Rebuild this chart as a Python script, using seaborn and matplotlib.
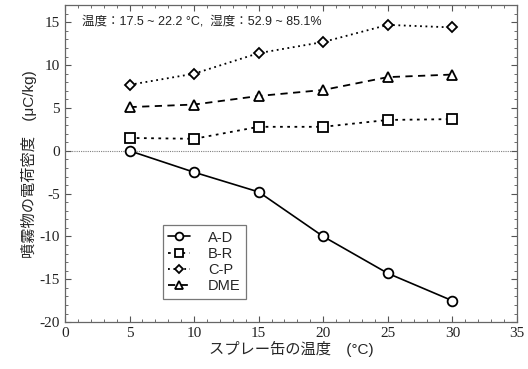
import pandas as pd
import matplotlib
matplotlib.use('Agg')
import matplotlib.pyplot as plt
import seaborn as sns
from matplotlib.ticker import MultipleLocator

# スプレー缶の温度 (°C)
temps = [5, 10, 15, 20, 25, 30]
ad = [0.0, -2.5, -4.8, -10.0, -14.3, -17.5]
br = [1.5, 1.4, 2.8, 2.8, 3.6, 3.7]
cp = [7.7, 9.0, 11.4, 12.7, 14.7, 14.4]
dme = [5.1, 5.4, 6.4, 7.1, 8.6, 8.9]
names = ['A-D', 'B-R', 'C-P', 'DME']

df = pd.DataFrame({
    'temp': temps * 4,
    'q': ad + br + cp + dme,
    'name': [n for n in names for _ in temps],
})

sns.set_style('ticks')
plt.rcParams['font.family'] = ['Noto Sans CJK JP', 'DejaVu Sans']
plt.rcParams['axes.unicode_minus'] = False
mixed = ['Liberation Sans', 'Noto Sans CJK JP']

fig = plt.figure(figsize=(5.28, 3.69), dpi=100)
ax = fig.add_axes([0.123, 0.127, 0.856, 0.859])

styles = {
    'A-D': dict(marker='o', ls='-', ms=7),
    'B-R': dict(marker='s', ls=(0, (1.5, 2.5)), ms=7),
    'C-P': dict(marker='D', ls=(0, (1, 2)), ms=5),
    'DME': dict(marker='^', ls=(0, (4, 3)), ms=7),
}
for n in names:
    st = styles[n]
    sns.lineplot(data=df[df['name'] == n], x='temp', y='q', ax=ax, color='black',
                 lw=1.2 if n == 'A-D' else 1.3, linestyle=st['ls'], marker=st['marker'],
                 markersize=st['ms'], markerfacecolor='white', markeredgecolor='black',
                 markeredgewidth=1.3, label=n)

ax.axhline(0, color='gray', lw=0.8, ls=(0, (1, 1)), zorder=0)

ax.set_xlim(0, 35)
ax.set_ylim(-20, 17)
ax.xaxis.set_major_locator(MultipleLocator(5))
ax.xaxis.set_minor_locator(MultipleLocator(1))
ax.yaxis.set_major_locator(MultipleLocator(5))
ax.yaxis.set_minor_locator(MultipleLocator(1))
ax.tick_params(which='both', direction='in', top=True, right=True, color='#555555')
ax.tick_params(which='major', length=4, width=0.8, labelsize=11,
               labelfontfamily='Liberation Serif', labelcolor='#222222')
ax.tick_params(which='minor', length=2, width=0.6)
for s in ax.spines.values():
    s.set_color('#666666')
    s.set_linewidth(0.9)

ax.set_xlabel('スプレー缶の温度　(°C)', fontsize=11, labelpad=1, family=mixed)
ax.set_ylabel('噴霧物の電荷密度　(μC/kg)', fontsize=11, labelpad=2, family=mixed)

ax.text(1.3, 15.1, '温度：17.5 ~ 22.2 °C,  湿度：52.9 ~ 85.1%', fontsize=9,
        va='center', ha='left', color='#222222', family=mixed)

leg = ax.legend(loc='lower left', bbox_to_anchor=(0.2, 0.05), fontsize=10.5,
                frameon=True, fancybox=False, edgecolor='#555555', handlelength=1.5,
                handletextpad=1.2, labelspacing=0.15, borderpad=0.4, markerscale=0.8)
leg.get_frame().set_linewidth(0.9)
for t in leg.get_texts():
    t.set_fontfamily('Liberation Sans')

fig.savefig('out.png', dpi=100)
